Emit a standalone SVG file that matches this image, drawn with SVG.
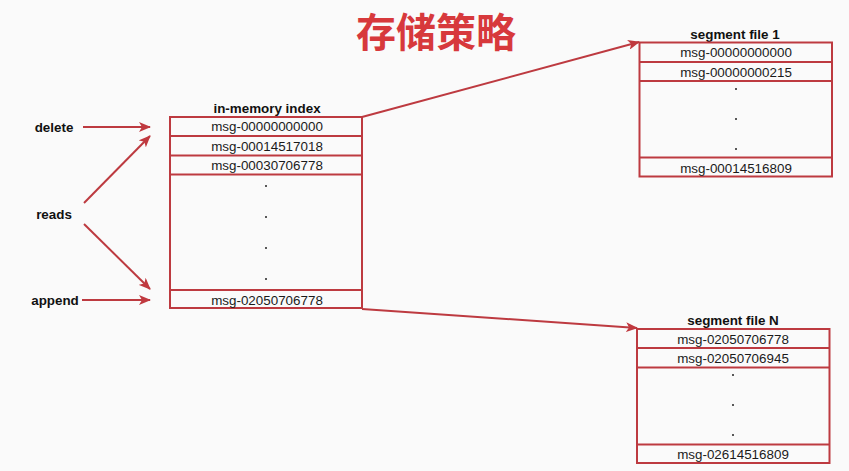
<svg xmlns="http://www.w3.org/2000/svg" width="849" height="471" viewBox="0 0 849 471">
<defs>
<style>
.box{fill:none;stroke:#bd3a40;stroke-width:2}
.ln{fill:none;stroke:#bd3a40;stroke-width:2}
.t{font-family:"Liberation Sans",Arial,sans-serif;font-size:13.4px;fill:#1a1a1a;text-anchor:middle}
.b{font-family:"Liberation Sans",Arial,sans-serif;font-size:13.4px;font-weight:bold;fill:#111;text-anchor:middle}
.dot{fill:#222}
</style>
<marker id="ah" viewBox="0 0 12 10" refX="11" refY="5" markerWidth="12" markerHeight="10" markerUnits="userSpaceOnUse" orient="auto">
<path d="M0,0 L12,5 L0,10 L3,5 Z" fill="#c0393f"/>
</marker>
</defs>
<rect width="849" height="471" fill="#fafafa"/>
<text x="436" y="46.5" font-family="'Noto Sans CJK SC',sans-serif" font-size="40" font-weight="bold" fill="#d7393c" text-anchor="middle">存储策略</text>

<g id="labels">
<text class="b" x="54" y="132">delete</text>
<text class="b" x="54" y="219">reads</text>
<text class="b" x="55" y="305">append</text>
</g>

<g id="in-memory-index">
<text class="b" x="267" y="113">in-memory index</text>
<rect class="box" x="170" y="117" width="192" height="191"/>
<line class="ln" x1="170" y1="136" x2="362" y2="136"/>
<line class="ln" x1="170" y1="155.5" x2="362" y2="155.5"/>
<line class="ln" x1="170" y1="174.5" x2="362" y2="174.5"/>
<line class="ln" x1="170" y1="290" x2="362" y2="290"/>
<text class="t" x="267" y="131">msg-00000000000</text>
<text class="t" x="267" y="150.5">msg-00014517018</text>
<text class="t" x="267" y="169.5">msg-00030706778</text>
<text class="t" x="267" y="304.5">msg-02050706778</text>
<circle class="dot" cx="266" cy="186" r="1"/>
<circle class="dot" cx="266" cy="217" r="1"/>
<circle class="dot" cx="266" cy="248" r="1"/>
<circle class="dot" cx="266" cy="279" r="1"/>
</g>

<g id="segment-file-1">
<text class="b" x="735" y="39">segment file 1</text>
<rect class="box" x="639.5" y="42.5" width="192.5" height="134"/>
<line class="ln" x1="639.5" y1="62" x2="832" y2="62"/>
<line class="ln" x1="639.5" y1="81" x2="832" y2="81"/>
<line class="ln" x1="639.5" y1="157.5" x2="832" y2="157.5"/>
<text class="t" x="736" y="57">msg-00000000000</text>
<text class="t" x="736" y="76.5">msg-00000000215</text>
<text class="t" x="736" y="172.5">msg-00014516809</text>
<circle class="dot" cx="736" cy="89" r="1"/>
<circle class="dot" cx="736" cy="119" r="1"/>
<circle class="dot" cx="736" cy="149" r="1"/>
</g>

<g id="segment-file-N">
<text class="b" x="733" y="325">segment file N</text>
<rect class="box" x="637" y="329" width="192.5" height="134"/>
<line class="ln" x1="637" y1="348" x2="829.5" y2="348"/>
<line class="ln" x1="637" y1="367.5" x2="829.5" y2="367.5"/>
<line class="ln" x1="637" y1="444.5" x2="829.5" y2="444.5"/>
<text class="t" x="733" y="343.5">msg-02050706778</text>
<text class="t" x="733" y="363">msg-02050706945</text>
<text class="t" x="733" y="459">msg-02614516809</text>
<circle class="dot" cx="733" cy="375" r="1"/>
<circle class="dot" cx="733" cy="405" r="1"/>
<circle class="dot" cx="733" cy="435" r="1"/>
</g>

<g id="connectors">
<line class="ln" x1="83" y1="127" x2="150" y2="127" marker-end="url(#ah)"/>
<line class="ln" x1="84" y1="203" x2="150" y2="136" marker-end="url(#ah)"/>
<line class="ln" x1="84" y1="224" x2="150" y2="289" marker-end="url(#ah)"/>
<line class="ln" x1="82" y1="300" x2="150" y2="300" marker-end="url(#ah)"/>
<line class="ln" x1="362" y1="117" x2="639" y2="42" marker-end="url(#ah)"/>
<line class="ln" x1="362" y1="309" x2="637" y2="328" marker-end="url(#ah)"/>
</g>
</svg>
